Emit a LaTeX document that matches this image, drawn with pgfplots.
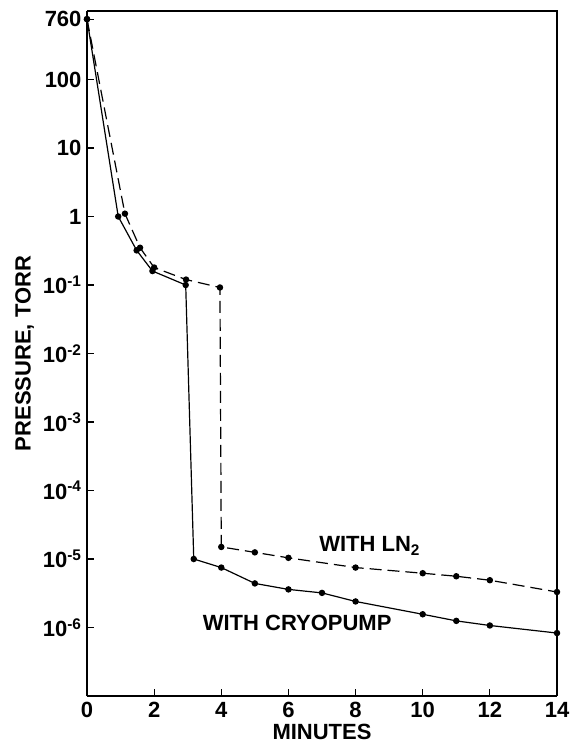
\documentclass[border=0pt]{standalone}
\usepackage{fontspec}
\setmainfont{Liberation Sans}
\usepackage{pgfplots}
\pgfplotsset{compat=1.18}

\begin{document}
\begin{tikzpicture}
\begin{axis}[
    name=ax,
    scale only axis,
    width=470pt, height=685pt,
    ymode=log,
    xmin=0, xmax=14,
    ymin=1e-7, ymax=1000,
    axis line style={line width=1.4pt},
    axis x line*=bottom,
    axis y line*=left,
    separate axis lines,
    every outer x axis line/.append style={-},
    every outer y axis line/.append style={-},
    tick align=inside,
    major tick length=7pt,
    tick style={line width=1.1pt, black},
    minor tick num=0,
    xtick={0,2,4,6,8,10,12,14},
    ytick={1e-6,1e-5,1e-4,1e-3,1e-2,1e-1,1,10,100,760},
    yticklabels={10\textsuperscript{-6},10\textsuperscript{-5},10\textsuperscript{-4},10\textsuperscript{-3},10\textsuperscript{-2},10\textsuperscript{-1},1,10,100,760},
    log ticks with fixed point,
    /pgf/number format/assume math mode=true,
    ticklabel style={font=\fontsize{22}{24}\selectfont\bfseries},
    xticklabel style={yshift=-3pt},
    yticklabel style={xshift=-2pt},
    xlabel={MINUTES},
    ylabel={PRESSURE, TORR},
    label style={font=\fontsize{22}{24}\selectfont\bfseries},
    xlabel style={yshift=1pt},
    ylabel style={yshift=2pt},
    clip=false,
]
% with cryopump (solid)
\addplot[black, line width=1.2pt, mark=*, mark size=2.6pt] coordinates {
    (0,760) (0.93,1.0) (1.48,0.32) (1.95,0.16) (2.94,0.10)
    (3.18,1.0e-5) (4,7.5e-6) (5,4.4e-6) (6,3.6e-6) (7,3.2e-6)
    (8,2.4e-6) (10,1.56e-6) (11,1.25e-6) (12,1.07e-6) (14,8.3e-7)
};
% with LN2 (dashed)
\addplot[black, line width=1.2pt, dash pattern=on 12pt off 6pt,
    mark=*, mark size=2.6pt, mark options={solid}] coordinates {
    (0,760) (1.13,1.1) (1.58,0.35) (2.0,0.18) (2.95,0.12) (3.96,0.092)
    (4,1.5e-5) (5,1.25e-5) (6,1.04e-5) (8,7.5e-6) (10,6.2e-6)
    (11,5.6e-6) (12,4.9e-6) (14,3.3e-6)
};
\node[font=\fontsize{22}{24}\selectfont\bfseries] at (axis cs:8.42,1.55e-5) {WITH LN\textsubscript{2}};
\node[font=\fontsize{22}{24}\selectfont\bfseries] at (axis cs:6.26,1.16e-6) {WITH CRYOPUMP};
\draw[line width=1.4pt] (rel axis cs:0,1) -- (rel axis cs:1,1) -- (rel axis cs:1,0);
\end{axis}
\path[use as bounding box] ([xshift=-87pt,yshift=-48pt]ax.south west) rectangle ([xshift=10pt,yshift=11pt]ax.north east);
\end{tikzpicture}
\end{document}
